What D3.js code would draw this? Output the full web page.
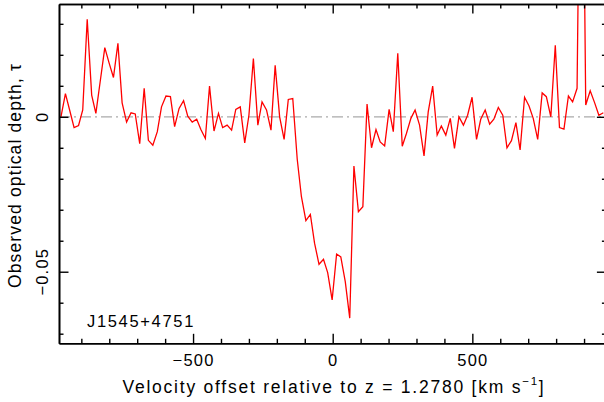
<!DOCTYPE html>
<html>
<head>
<meta charset="utf-8">
<script src="https://cdn.jsdelivr.net/npm/d3@7"></script>
<style>
body { margin: 0; background: #fff; }
text { font-family: "Liberation Sans", Arial, sans-serif; fill: #000; }
</style>
</head>
<body>
<div id="chart"></div>
<script>
// velocity channels (km/s) and observed optical depth
var velocity = [-973, -957, -942, -926, -910, -895, -879, -863, -848, -832,
    -816, -801, -785, -769, -754, -738, -722, -707, -691, -675,
    -660, -644, -628, -613, -597, -581, -566, -550, -534, -519,
    -503, -487, -472, -456, -441, -425, -409, -394, -378, -362,
    -347, -331, -315, -300, -284, -268, -253, -237, -221, -206,
    -190, -174, -159, -143, -127, -112, -96, -80, -65, -49,
    -33, -18, -2, 14, 29, 45, 61, 76, 92, 108,
    123, 139, 155, 170, 186, 202, 217, 233, 249, 264,
    280, 295, 311, 327, 342, 358, 374, 389, 405, 421,
    436, 452, 468, 483, 499, 515, 530, 546, 562, 577,
    593, 609, 624, 640, 656, 671, 687, 703, 718, 734,
    750, 765, 781, 797, 812, 828, 844, 859, 875, 891,
    906, 922, 938, 953, 969];

var tau = [0.0000, 0.0075, 0.0022, -0.0035, -0.0028, 0.0022, 0.0315, 0.0070, 0.0011, 0.0117,
    0.0223, 0.0175, 0.0127, 0.0237, 0.0045, -0.0017, 0.0013, 0.0009, -0.0087, 0.0092,
    -0.0076, -0.0092, -0.0048, 0.0032, 0.0067, 0.0065, -0.0032, 0.0027, 0.0052, 0.0002,
    -0.0017, -0.0008, -0.0041, -0.0070, 0.0099, -0.0046, 0.0011, -0.0035, -0.0027, -0.0043,
    0.0024, 0.0032, -0.0084, 0.0005, 0.0188, -0.0027, 0.0048, 0.0022, -0.0043, 0.0166,
    0.0000, -0.0073, 0.0056, 0.0059, -0.0137, -0.0258, -0.0335, -0.0315, -0.0408, -0.0476,
    -0.0460, -0.0503, -0.0591, -0.0443, -0.0452, -0.0532, -0.0650, -0.0159, -0.0306, -0.0290,
    0.0041, -0.0100, -0.0041, -0.0081, -0.0094, 0.0024, -0.0048, 0.0205, -0.0095, -0.0054,
    -0.0005, 0.0022, -0.0027, -0.0126, 0.0016, 0.0099, -0.0059, -0.0030, -0.0059, -0.0005,
    -0.0102, 0.0000, -0.0027, 0.0005, 0.0063, -0.0073, -0.0008, 0.0022, -0.0024, -0.0008,
    0.0030, 0.0005, -0.0100, -0.0077, -0.0019, -0.0107, 0.0063, 0.0035, -0.0005, -0.0073,
    0.0077, 0.0065, 0.0000, 0.0231, -0.0035, -0.0040, 0.0067, 0.0048, 0.0092, 0.1400,
    0.0038, 0.0084, 0.0045, 0.0005, 0.0013];

var xMajorTicks = [-500, 0, 500];
var xTickLabels = ["\u2212500", "0", "500"];
var xMinorTicks = [-900, -800, -700, -600, -400, -300, -200, -100, 100, 200, 300, 400, 600, 700, 800, 900];
var yMajorTicks = [0, -0.05];
var yTickLabels = ["0", "\u22120.05"];
var yMinorTicks = [0.03, 0.02, 0.01, -0.01, -0.02, -0.03, -0.04, -0.06, -0.07];
var sourceName = "J1545+4751";

var width = 604, height = 402;
var plotLeft = 59, plotRight = 606.4, plotTop = 4, plotBottom = 343.3;

var x = d3.scaleLinear().domain([-980, 980]).range([plotLeft, plotRight]);
var y = d3.scaleLinear().domain([-0.0731, 0.0364]).range([plotBottom, plotTop]);

var svg = d3.select("#chart")
    .append("svg")
    .attr("width", width)
    .attr("height", height);

svg.append("clipPath")
    .attr("id", "plotclip")
    .append("rect")
    .attr("x", plotLeft)
    .attr("y", plotTop)
    .attr("width", plotRight - plotLeft)
    .attr("height", plotBottom - plotTop);

// zero level
svg.append("line")
    .attr("x1", x(-980))
    .attr("x2", x(980))
    .attr("y1", y(0))
    .attr("y2", y(0))
    .attr("stroke", "#aaaaaa")
    .attr("stroke-width", 1.3)
    .attr("stroke-dasharray", "11,4,2,4");

var line = d3.line()
    .x(function(d, i) { return x(velocity[i]); })
    .y(function(d) { return y(d); });

svg.append("path")
    .datum(tau)
    .attr("clip-path", "url(#plotclip)")
    .attr("fill", "none")
    .attr("stroke", "#ff0000")
    .attr("stroke-width", 1.3)
    .attr("d", line);

function styleAxis(g) {
    g.selectAll("path").attr("stroke", "#000").attr("stroke-width", 1.6);
    g.selectAll("line").attr("stroke", "#000").attr("stroke-width", 1.4);
}

// stretch a text to the width it has in the reference
function fitWidth(sel, target) {
    var node = sel.node();
    var n = node.getNumberOfChars();
    var w = node.getComputedTextLength();
    sel.style("letter-spacing", ((target - w) / n) + "px");
}

// bottom
svg.append("g")
    .attr("transform", "translate(0," + plotBottom + ")")
    .call(d3.axisBottom(x).tickValues(xMinorTicks).tickSize(-4.5).tickSizeOuter(0).tickFormat(""))
    .call(styleAxis);
var xb = svg.append("g")
    .attr("transform", "translate(0," + plotBottom + ")")
    .call(d3.axisBottom(x).tickValues(xMajorTicks).tickSize(-9.5).tickSizeOuter(0).tickPadding(10.5)
        .tickFormat(function(d, i) { return xTickLabels[i]; }))
    .call(styleAxis);
xb.selectAll("text")
    .attr("fill", "#000")
    .style("font-family", "Liberation Sans, Arial, sans-serif")
    .style("font-size", "16.5px")
    .style("letter-spacing", "1.2px");

// top
svg.append("g")
    .attr("transform", "translate(0," + plotTop + ")")
    .call(d3.axisTop(x).tickValues(xMinorTicks).tickSize(-4.5).tickSizeOuter(0).tickFormat(""))
    .call(styleAxis);
svg.append("g")
    .attr("transform", "translate(0," + plotTop + ")")
    .call(d3.axisTop(x).tickValues(xMajorTicks).tickSize(-9.5).tickSizeOuter(0).tickFormat(""))
    .call(styleAxis);

// left
svg.append("g")
    .attr("transform", "translate(" + plotLeft + ",0)")
    .call(d3.axisLeft(y).tickValues(yMinorTicks).tickSize(-4.5).tickSizeOuter(0).tickFormat(""))
    .call(styleAxis);
svg.append("g")
    .attr("transform", "translate(" + plotLeft + ",0)")
    .call(d3.axisLeft(y).tickValues(yMajorTicks).tickSize(-9.5).tickSizeOuter(0).tickFormat(""))
    .call(styleAxis);

// right
svg.append("g")
    .attr("transform", "translate(" + plotRight + ",0)")
    .call(d3.axisRight(y).tickValues(yMinorTicks).tickSize(-4.5).tickSizeOuter(0).tickFormat(""))
    .call(styleAxis);
svg.append("g")
    .attr("transform", "translate(" + plotRight + ",0)")
    .call(d3.axisRight(y).tickValues(yMajorTicks).tickSize(-9.5).tickSizeOuter(0).tickFormat(""))
    .call(styleAxis);

// rotated y tick labels
svg.selectAll(".ylab")
    .data(yMajorTicks)
    .enter().append("text")
    .attr("class", "ylab")
    .attr("transform", function(d) { return "translate(47.6," + y(d) + ") rotate(-90)"; })
    .attr("text-anchor", "middle")
    .style("font-size", "16.5px")
    .style("letter-spacing", "1.2px")
    .text(function(d, i) { return yTickLabels[i]; });

// axis titles
var xt = svg.append("text")
    .attr("x", 122.5)
    .attr("y", 392.7)
    .style("font-size", "17.5px");
xt.append("tspan").text("Velocity offset relative to z = 1.2780 [km s");
xt.append("tspan").attr("dy", -8).style("font-size", "11.5px").text("\u22121");
xt.append("tspan").attr("dy", 8).text("]");
fitWidth(xt, 423);

var yt = svg.append("text")
    .attr("transform", "translate(20.7,288) rotate(-90)")
    .style("font-size", "17.5px")
    .text("Observed optical depth, \u03c4");
fitWidth(yt, 225);

var src = svg.append("text")
    .attr("x", 87)
    .attr("y", 326.7)
    .style("font-size", "16.5px")
    .text(sourceName);
fitWidth(src, 108);
</script>
</body>
</html>
